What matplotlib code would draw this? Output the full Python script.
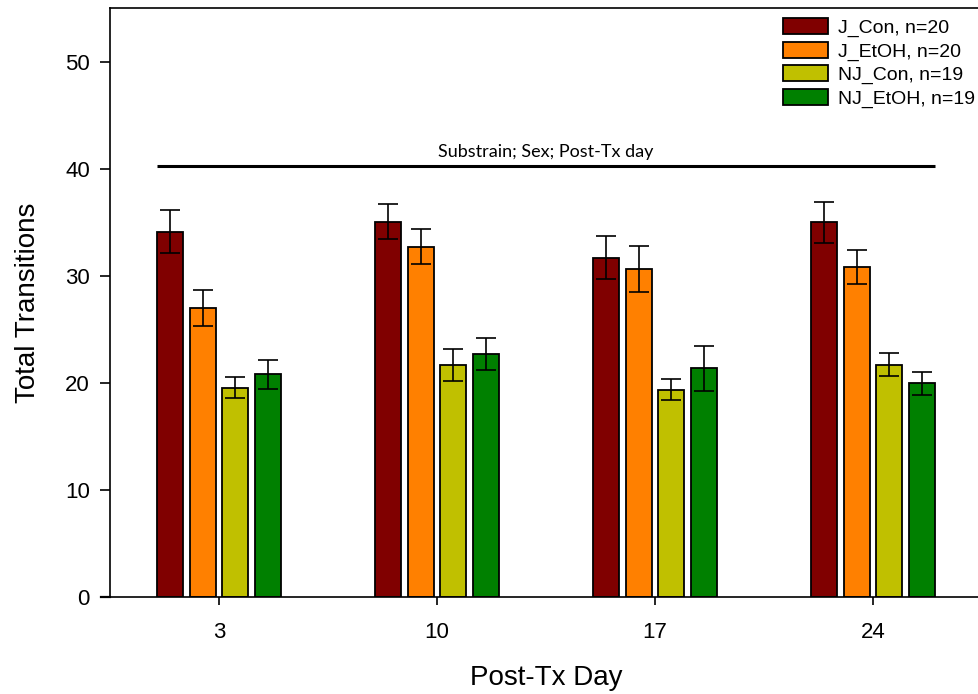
import numpy as np
import matplotlib
matplotlib.use("Agg")
import matplotlib.pyplot as plt
from matplotlib.lines import Line2D

plt.rcParams['font.family'] = ['Liberation Sans', 'DejaVu Sans']

days = ["3", "10", "17", "24"]
groups = ["J_Con, n=20", "J_EtOH, n=20", "NJ_Con, n=19", "NJ_EtOH, n=19"]
colors = ["#800000", "#FF8000", "#C0C000", "#008000"]

j_con = [34.1, 35.05, 31.7, 35.0]
j_con_se = [2.0, 1.65, 2.0, 1.9]
j_etoh = [27.0, 32.7, 30.65, 30.8]
j_etoh_se = [1.7, 1.65, 2.15, 1.6]
nj_con = [19.55, 21.7, 19.35, 21.7]
nj_con_se = [0.95, 1.5, 1.0, 1.1]
nj_etoh = [20.8, 22.7, 21.35, 19.95]
nj_etoh_se = [1.37, 1.5, 2.1, 1.05]

means = [j_con, j_etoh, nj_con, nj_etoh]
errs = [j_con_se, j_etoh_se, nj_con_se, nj_etoh_se]

fig = plt.figure(figsize=(9.79, 6.94), dpi=100)
ax = fig.add_axes([0.1124, 0.1398, 1.003 - 0.1124, 0.9885 - 0.1398])

x = np.arange(len(days))
step = 0.15
width = 0.12
offsets = (np.arange(4) - 1.5) * step

for i in range(4):
    ax.bar(x + offsets[i], means[i], width, color=colors[i], edgecolor="black",
           linewidth=1.3, label=groups[i], zorder=2)
    ax.errorbar(x + offsets[i], means[i], yerr=errs[i], fmt="none", ecolor="black",
                elinewidth=1.2, capsize=7, capthick=1.2, zorder=3)

# significance line across all groups
ax.plot([x[0] + offsets[0] - width / 2, x[-1] + offsets[-1] + width / 2], [40.2, 40.2],
        color="black", lw=2.2, solid_capstyle="butt")
ax.text(x.mean(), 41.1, "Substrain; Sex; Post-Tx day", ha="center", va="baseline",
        fontsize=13, family=["Lato", "DejaVu Sans"])

ax.set_xlim(-0.5, 3.5)
ax.set_ylim(0, 55)
ax.set_xticks(x)
ax.set_xticklabels(days)
ax.set_yticks([0, 10, 20, 30, 40, 50])

ax.spines["right"].set_visible(False)
for s in ["left", "bottom", "top"]:
    ax.spines[s].set_linewidth(1.2)
# bottom axis line runs a little past the y axis
ax.add_line(Line2D([-0.01, 0], [0, 0], transform=ax.transAxes, color="black",
                   lw=1.6, clip_on=False))

ax.tick_params(axis="both", labelsize=16, direction="out", width=1.2)
ax.tick_params(axis="y", length=7, pad=7.5)
ax.tick_params(axis="x", length=6, pad=12)

ax.set_xlabel("Post-Tx Day", fontsize=20, labelpad=16)
ax.set_ylabel("Total Transitions", fontsize=20, labelpad=17)

ax.legend(loc="upper right", bbox_to_anchor=(0.996, 0.9736), bbox_transform=fig.transFigure,
          frameon=False, fontsize=14, handlelength=2.31, handleheight=0.875,
          handletextpad=0.51, labelspacing=0.24, borderpad=0, borderaxespad=0)

fig.savefig("out.png", dpi=100)
